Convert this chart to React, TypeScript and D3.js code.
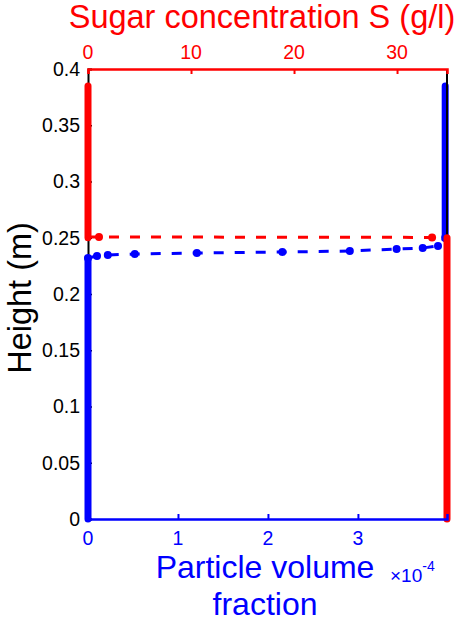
import React, { useEffect, useRef } from "react";
import * as d3 from "d3";

// tick values
const heightTicks = [0, 0.05, 0.1, 0.15, 0.2, 0.25, 0.3, 0.35, 0.4];
const phiTicks = [0, 1e-4, 2e-4, 3e-4];
const sugarTicks = [0, 10, 20, 30];

// particle volume fraction (blue)
const phiSettledHeights = [0, 0.232]; // at phi = 0
const phiFrontPhi = [0, 0.1e-4, 0.22e-4, 0.52e-4, 1.21e-4, 2.16e-4, 2.91e-4, 3.43e-4, 3.72e-4, 3.89e-4, 3.97e-4];
const phiFrontHeights = [0.232, 0.2338, 0.2347, 0.2356, 0.2364, 0.2373, 0.2382, 0.24, 0.2409, 0.2427, 0.25];
const phiTopHeights = [0.25, 0.385]; // at phi = phiMax
const phiMax = 3.97e-4;

// sugar concentration (red)
const sugarTopHeights = [0.25, 0.385]; // at S = 0
const sugarFrontS = [0, 1.07, 33.4, 34.85];
const sugarFrontHeights = [0.2507, 0.2507, 0.2503, 0.25];
const sugarBottomHeights = [0, 0.25]; // at S = sMax
const sMax = 34.85;

const W = 457;
const H = 622;
const FONT = "'Liberation Sans', Arial, Helvetica, sans-serif";
const TICK_FS = 19.5;
const TITLE_FS = 32.5;

export default function App() {
  const ref = useRef<SVGSVGElement>(null);

  useEffect(() => {
    const svg = d3.select(ref.current);
    svg.selectAll("*").remove();

    const left = 88, right = 447, top = 69, bottom = 519;

    const y = d3.scaleLinear().domain([0, 0.4]).range([bottom, top]);
    const xPhi = d3.scaleLinear().domain([0, 3.99e-4]).range([left, right]);
    const xS = d3.scaleLinear().domain([0, 34.85]).range([left, right]);

    const blue = "#0000ff";
    const red = "#ff0000";

    // left axis (black), ticks inside
    const yAxis = d3.axisRight(y).tickValues(heightTicks).tickSize(4).tickFormat(() => "");
    const gy = svg.append("g").attr("transform", `translate(${left},0)`).call(yAxis);
    gy.select(".domain").attr("stroke", "#000").attr("stroke-width", 2);
    gy.selectAll(".tick line").attr("stroke", "#000").attr("stroke-width", 1.5);

    svg
      .append("g")
      .selectAll("text")
      .data(heightTicks)
      .join("text")
      .attr("x", left - 8)
      .attr("y", (d) => y(d))
      .attr("dy", "0.35em")
      .attr("text-anchor", "end")
      .attr("font-family", FONT)
      .attr("font-size", TICK_FS)
      .attr("fill", "#000")
      .text((d) => d3.format("~g")(d));

    const line = d3.line<[number, number]>();

    // blue series
    const blueThick = [
      phiSettledHeights.map((h) => [xPhi(0), y(h)] as [number, number]),
      phiTopHeights.map((h) => [xPhi(phiMax), y(h)] as [number, number]),
    ];
    svg
      .append("g")
      .selectAll("path")
      .data(blueThick)
      .join("path")
      .attr("d", (d) => line(d))
      .attr("fill", "none")
      .attr("stroke", blue)
      .attr("stroke-width", 7)
      .attr("stroke-linecap", "round");

    const bluePts = phiFrontPhi.map((p, i) => [xPhi(p), y(phiFrontHeights[i])] as [number, number]);
    svg
      .append("path")
      .attr("d", line(bluePts))
      .attr("fill", "none")
      .attr("stroke", blue)
      .attr("stroke-width", 3)
      .attr("stroke-dasharray", "10 11");
    svg
      .append("g")
      .selectAll("circle")
      .data(bluePts)
      .join("circle")
      .attr("cx", (d) => d[0])
      .attr("cy", (d) => d[1])
      .attr("r", 4)
      .attr("fill", blue);

    // right axis line (black)
    svg
      .append("line")
      .attr("x1", right)
      .attr("x2", right)
      .attr("y1", top)
      .attr("y2", bottom)
      .attr("stroke", "#000")
      .attr("stroke-width", 2);

    // red series
    const redThick = [
      sugarTopHeights.map((h) => [xS(0), y(h)] as [number, number]),
      sugarBottomHeights.map((h) => [xS(sMax), y(h)] as [number, number]),
    ];
    svg
      .append("g")
      .selectAll("path")
      .data(redThick)
      .join("path")
      .attr("d", (d) => line(d))
      .attr("fill", "none")
      .attr("stroke", red)
      .attr("stroke-width", 7)
      .attr("stroke-linecap", "round");

    const redPts = sugarFrontS.map((s, i) => [xS(s), y(sugarFrontHeights[i])] as [number, number]);
    svg
      .append("path")
      .attr("d", line(redPts))
      .attr("fill", "none")
      .attr("stroke", red)
      .attr("stroke-width", 3)
      .attr("stroke-dasharray", "10 11");
    svg
      .append("g")
      .selectAll("circle")
      .data(redPts.slice(1, -1))
      .join("circle")
      .attr("cx", (d) => d[0])
      .attr("cy", (d) => d[1])
      .attr("r", 4)
      .attr("fill", red);

    // top axis (red)
    const topAxis = d3.axisBottom(xS).tickValues(sugarTicks).tickSize(5).tickFormat(() => "");
    const gt = svg.append("g").attr("transform", `translate(0,${top})`).call(topAxis);
    gt.select(".domain").attr("stroke", red).attr("stroke-width", 2.5);
    gt.selectAll(".tick line").attr("stroke", red).attr("stroke-width", 2);
    svg
      .append("g")
      .selectAll("text")
      .data(sugarTicks)
      .join("text")
      .attr("x", (d) => xS(d))
      .attr("y", top - 10)
      .attr("text-anchor", "middle")
      .attr("font-family", FONT)
      .attr("font-size", TICK_FS)
      .attr("fill", red)
      .text((d) => d);

    // bottom axis (blue)
    const bottomAxis = d3.axisTop(xPhi).tickValues(phiTicks).tickSize(5).tickFormat(() => "");
    const gb = svg.append("g").attr("transform", `translate(0,${bottom})`).call(bottomAxis);
    gb.select(".domain").attr("stroke", blue).attr("stroke-width", 2.5);
    gb.selectAll(".tick line").attr("stroke", blue).attr("stroke-width", 2);
    svg
      .append("g")
      .selectAll("text")
      .data(phiTicks)
      .join("text")
      .attr("x", (d) => xPhi(d))
      .attr("y", bottom + 26)
      .attr("text-anchor", "middle")
      .attr("font-family", FONT)
      .attr("font-size", TICK_FS)
      .attr("fill", blue)
      .text((d) => Math.round(d * 1e4));

    // titles
    svg
      .append("text")
      .attr("x", 262)
      .attr("y", 28)
      .attr("text-anchor", "middle")
      .attr("font-family", FONT)
      .attr("font-size", TITLE_FS)
      .attr("fill", red)
      .text("Sugar concentration S (g/l)");

    svg
      .append("text")
      .attr("transform", `translate(31,298) rotate(-90)`)
      .attr("text-anchor", "middle")
      .attr("font-family", FONT)
      .attr("font-size", TITLE_FS)
      .attr("fill", "#000")
      .text("Height (m)");

    svg
      .append("text")
      .attr("x", 265)
      .attr("y", 578)
      .attr("text-anchor", "middle")
      .attr("font-family", FONT)
      .attr("font-size", 32)
      .attr("fill", blue)
      .text("Particle volume");
    svg
      .append("text")
      .attr("x", 265)
      .attr("y", 615)
      .attr("text-anchor", "middle")
      .attr("font-family", FONT)
      .attr("font-size", 32)
      .attr("fill", blue)
      .text("fraction");

    const exp = svg
      .append("text")
      .attr("x", 390)
      .attr("y", 582)
      .attr("font-family", FONT)
      .attr("font-size", 19)
      .attr("fill", blue);
    exp.append("tspan").text("\u00d710");
    exp.append("tspan").attr("dy", -11).attr("font-size", 14).text("-4");
  }, []);

  return (
    <svg
      ref={ref}
      width={W}
      height={H}
      style={{ position: "absolute", left: 0, top: 0, background: "#fff" }}
    />
  );
}
